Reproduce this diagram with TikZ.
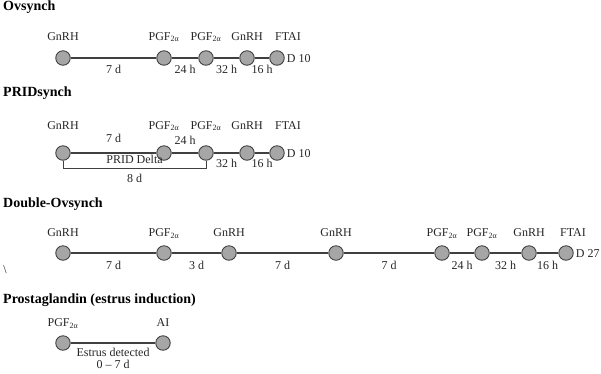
\documentclass[tikz,border=0pt]{standalone}
\usepackage{fontspec}
\setmainfont{Liberation Serif}
\usetikzlibrary{positioning}

\def\PGFa{PGF\textsubscript{2α}}

\begin{document}
\begin{tikzpicture}[x=1pt, y=-1pt,
inj/.style = {circle, draw=black!75, fill=black!35, line width=0.9pt,
              minimum size=14.5pt, inner sep=0pt},
lbl/.style = {text=black!85, font=\fontsize{12}{14}\selectfont,
              inner sep=2pt, text height=8pt, text depth=2pt},
ttl/.style = {anchor=base west, inner sep=0pt,
              font=\fontsize{14}{16}\selectfont\bfseries},
tl/.style  = {draw=black!75, line width=1.3pt}
                        ]
\useasboundingbox (0,0) rectangle (601,373);

% Ovsynch
\node[ttl] (t1) at (3,10) {Ovsynch};
\node[inj] (a1) at (63,58) {};
\node[inj] (a2) at (164,58) {};
\node[inj] (a3) at (206,58) {};
\node[inj] (a4) at (247,58) {};
\node[inj] (a5) at (277,58) {};
\node[lbl, above=6pt of a1] (la1) {GnRH};
\node[lbl, above=6pt of a2] (la2) {\PGFa};
\node[lbl, above=6pt of a3] (la3) {\PGFa};
\node[lbl, above=6pt of a4] (la4) {GnRH};
\node[lbl, above=6pt of a5, xshift=11pt] (la5) {FTAI};
\node[lbl, right=0pt of a5, yshift=-1.5pt] (da) {D 10};
\draw[tl] (a1) -- node[lbl, below=4.5pt] (ia1) {7 d} (a2);
\draw[tl] (a2) -- node[lbl, below=4.5pt] (ia2) {24 h} (a3);
\draw[tl] (a3) -- node[lbl, below=4.5pt] (ia3) {32 h} (a4);
\draw[tl] (a4) -- node[lbl, below=4.5pt] (ia4) {16 h} (a5);

% PRIDsynch
\node[ttl] (t2) at (3,96) {PRIDsynch};
\node[inj] (b1) at (63,153) {};
\node[inj] (b2) at (164,153) {};
\node[inj] (b3) at (206,153) {};
\node[inj] (b4) at (247,153) {};
\node[inj] (b5) at (277,153) {};
\node[lbl, above=12pt of b1] (lb1) {GnRH};
\node[lbl, above=12pt of b2] (lb2) {\PGFa};
\node[lbl, above=12pt of b3] (lb3) {\PGFa};
\node[lbl, above=12pt of b4] (lb4) {GnRH};
\node[lbl, above=12pt of b5, xshift=11pt] (lb5) {FTAI};
\node[lbl, right=0pt of b5, yshift=-1.5pt] (db) {D 10};
\draw[tl] (b1) -- node[lbl, above=6pt] (ib1) {7 d} (b2);
\draw[tl] (b2) -- node[lbl, above=4pt] (ib2) {24 h} (b3);
\draw[tl] (b3) -- node[lbl, below=3.5pt] (ib3) {32 h} (b4);
\draw[tl] (b4) -- node[lbl, below=3.5pt] (ib4) {16 h} (b5);
\draw[draw=black!75, line width=1pt] (b1.south) -- ++(0,7.5) -|
  node[lbl, pos=0.25, above=0.5pt] (pd) {PRID Delta}
  node[lbl, pos=0.25, below=3.5pt] (pd8) {8 d} (b3.south);

% Double-Ovsynch
\node[ttl] (t3) at (3,207) {Double-Ovsynch};
\node[lbl] (bs) at (5,270) {\textbackslash};
\node[inj] (c1) at (63,253) {};
\node[inj] (c2) at (164,253) {};
\node[inj] (c3) at (229,253) {};
\node[inj] (c4) at (336,253) {};
\node[inj] (c5) at (442,253) {};
\node[inj] (c6) at (482,253) {};
\node[inj] (c7) at (529,253) {};
\node[inj] (c8) at (566,253) {};
\node[lbl, above=4.5pt of c1] (lc1) {GnRH};
\node[lbl, above=4.5pt of c2] (lc2) {\PGFa};
\node[lbl, above=4.5pt of c3] (lc3) {GnRH};
\node[lbl, above=4.5pt of c4] (lc4) {GnRH};
\node[lbl, above=4.5pt of c5] (lc5) {\PGFa};
\node[lbl, above=4.5pt of c6] (lc6) {\PGFa};
\node[lbl, above=4.5pt of c7] (lc7) {GnRH};
\node[lbl, above=4.5pt of c8, xshift=7pt] (lc8) {FTAI};
\node[lbl, right=0pt of c8, yshift=-1pt] (dc) {D 27};
\draw[tl] (c1) -- node[lbl, below=6pt] (ic1) {7 d} (c2);
\draw[tl] (c2) -- node[lbl, below=6pt] (ic2) {3 d} (c3);
\draw[tl] (c3) -- node[lbl, below=6pt] (ic3) {7 d} (c4);
\draw[tl] (c4) -- node[lbl, below=6pt] (ic4) {7 d} (c5);
\draw[tl] (c5) -- node[lbl, below=6pt] (ic5) {24 h} (c6);
\draw[tl] (c6) -- node[lbl, below=6pt] (ic6) {32 h} (c7);
\draw[tl] (c7) -- node[lbl, below=6pt] (ic7) {16 h} (c8);

% Prostaglandin
\node[ttl] (t4) at (3,303) {Prostaglandin (estrus induction)};
\node[inj] (e1) at (63,343) {};
\node[inj] (e2) at (163,343) {};
\node[lbl, above=4.5pt of e1] (le1) {\PGFa};
\node[lbl, above=4.5pt of e2] (le2) {AI};
\draw[tl] (e1) -- node[lbl, below=2.5pt] (ie1) {Estrus detected} (e2);
\node[lbl, below=-2.5pt of ie1] (ie2) {0 – 7 d};
\end{tikzpicture}
\end{document}
